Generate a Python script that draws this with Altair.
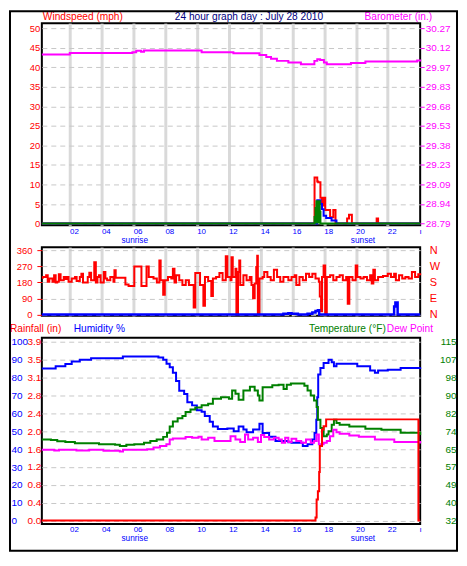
import altair as alt
import pandas as pd

FONT = "Liberation Sans"
RED, BLUE, GREEN, MAGENTA, NAVY = "#ff0000", "#0000ff", "#008000", "#ff00ff", "#000080"
GRID_V, GRID_H = "#d9d9d9", "#c8c8c8"

# ------------------------------------------------------------------ data
hour_domain = [0.22, 24.04]
x_tick_values = [2, 4, 6, 8, 10, 12, 14, 16, 18, 20, 22, 24]
x_tick_labels = ["02", "04", "06", "08", "10", "12", "14", "16", "18", "20", "22", "ı"]
sun_names = ["sunrise", "sunset"]
sun_hours = [6.07, 20.44]

# panel 1 : wind speed (mph) / barometer (in.)
wind_ticks = [0, 5, 10, 15, 20, 25, 30, 35, 40, 45, 50]
baro_tick_values = [28.79, 28.938, 29.086, 29.234, 29.382, 29.53, 29.678, 29.826, 29.974, 30.122, 30.27]
baro_tick_labels = ["28.79", "28.94", "29.09", "29.23", "29.38", "29.53", "29.68", "29.83", "29.97", "30.12", "30.27"]

wind_red = [(0.22, 0), (17.39, 11.8), (17.56, 10.8), (17.62, 10.6), (17.76, 6.6), (17.86, 4.6),
            (17.96, 6.6), (18.06, 3.5), (18.37, 1.6), (18.57, 3.5), (18.71, 0), (19.44, 1.3),
            (19.56, 2.25), (19.74, 0), (21.30, 1.3), (21.39, 0), (24.04, 0)]
wind_blue = [(0.22, 0), (17.56, 6.0), (17.76, 5.0), (17.86, 3.7), (17.96, 2.0), (18.12, 1.4),
             (18.46, 0.8), (18.77, 0), (24.04, 0)]
wind_green = [(0.22, 0), (17.39, 1.7), (17.45, 4.0), (17.51, 5.7), (17.72, 3.0), (17.76, 0), (24.04, 0)]
barometer = [(0.22, 30.072), (1.98, 30.082), (5.92, 30.089), (6.16, 30.100), (6.47, 30.092),
             (6.65, 30.102), (10.28, 30.089), (12.28, 30.080), (13.92, 30.067), (14.35, 30.052),
             (14.65, 30.040), (15.02, 30.023), (15.74, 30.011), (16.53, 29.998), (17.38, 30.023),
             (17.56, 30.035), (17.74, 30.030), (17.98, 30.011), (18.16, 29.998), (19.68, 30.006),
             (20.59, 30.018), (23.85, 30.026), (24.04, 30.018)]

# panel 2 : wind direction
dir_tick_values = [0, 90, 180, 270, 360]
dir_tick_letters = ["N", "E", "S", "W", "N"]
wind_dir = [(0.22, 205), (0.28, 210), (0.49, 219), (0.59, 183), (0.69, 201), (0.89, 183), (0.99, 219),
            (1.09, 179), (1.19, 183), (1.29, 225), (1.40, 192), (1.60, 210), (1.70, 198), (1.80, 210),
            (1.90, 183), (2.10, 201), (2.31, 210), (2.41, 188), (2.61, 210), (2.71, 228), (2.81, 179),
            (3.11, 210), (3.21, 234), (3.32, 192), (3.52, 292), (3.62, 179), (3.72, 210), (3.82, 219),
            (3.92, 179), (4.12, 238), (4.22, 201), (4.33, 192), (4.53, 210), (4.73, 183), (4.79, 247),
            (4.87, 205), (5.48, 168), (5.68, 159), (6.04, 269), (6.49, 159), (6.81, 269), (6.95, 210),
            (7.25, 201), (7.46, 179), (7.62, 302), (7.70, 192), (7.86, 110), (7.96, 192), (8.16, 210),
            (8.37, 201), (8.47, 256), (8.57, 179), (8.67, 219), (8.87, 192), (9.07, 165), (9.28, 192),
            (9.48, 165), (9.78, 40), (9.88, 232), (10.18, 165), (10.39, 49), (10.49, 210), (10.69, 188),
            (10.89, 104), (10.99, 201), (11.19, 210), (11.40, 232), (11.60, 192), (11.80, 325),
            (11.90, 210), (12.10, 192), (12.16, 320), (12.24, 210), (12.41, 256), (12.47, 0),
            (12.57, 238), (12.65, 302), (12.71, 165), (12.91, 219), (13.11, 192), (13.31, 210),
            (13.42, 165), (13.52, 91), (13.62, 174), (13.72, 265), (13.78, 329), (13.82, 0),
            (13.92, 201), (14.12, 210), (14.22, 238), (14.42, 210), (14.63, 192), (14.83, 250),
            (15.03, 210), (15.23, 183), (15.43, 210), (15.74, 192), (15.94, 210), (16.14, 219),
            (16.24, 165), (16.44, 210), (16.65, 192), (16.85, 228), (17.05, 210), (17.25, 228),
            (17.45, 201), (17.66, 183), (17.72, 101), (17.80, 18), (17.86, 210), (17.96, 274),
            (18.06, 0), (18.16, 210), (18.37, 219), (18.57, 192), (18.77, 210), (18.97, 219),
            (19.17, 192), (19.38, 210), (19.48, 60), (19.58, 210), (19.78, 192), (19.98, 274),
            (20.08, 210), (20.28, 201), (20.48, 210), (20.69, 192), (20.89, 219), (20.99, 174),
            (21.09, 250), (21.19, 192), (21.39, 210), (21.70, 216), (22.00, 228), (22.20, 210),
            (22.40, 228), (22.51, 192), (22.71, 219), (22.91, 201), (23.11, 210), (23.31, 201),
            (23.52, 238), (23.72, 210), (23.92, 225), (24.04, 219)]
wind_dir_speed = [(0.22, 0), (15.43, 4), (15.74, 8), (15.94, 4), (16.34, 0), (16.95, 5), (17.25, 12),
                  (17.45, 20), (17.60, 24), (17.68, 0), (22.40, 45), (22.48, 68), (22.62, 0), (24.04, 0)]

# panel 3 : rainfall / humidity / temperature / dew point
hum_ticks = [0, 10, 20, 30, 40, 50, 60, 70, 80, 90, 100]
rain_tick_values = [0.0, 0.39, 0.78, 1.17, 1.56, 1.95, 2.34, 2.73, 3.12, 3.51, 3.9]
rain_tick_labels = ["0.0", "0.4", "0.8", "1.2", "1.6", "2.0", "2.4", "2.8", "3.1", "3.5", "3.9"]
temp_tick_values = [32, 40.3, 48.6, 56.9, 65.2, 73.5, 81.8, 90.1, 98.4, 106.7, 115]
temp_tick_labels = ["32", "40", "49", "57", "65", "74", "82", "90", "98", "107", "115"]

humidity = [(0.22, 85.1), (1.09, 86.4), (1.70, 87.6), (2.10, 89.1), (2.61, 90.0), (3.32, 90.9),
            (5.32, 91.8), (7.56, 91.3), (7.86, 90.0), (8.07, 87.8), (8.27, 85.8), (8.47, 82.7),
            (8.67, 78.2), (8.87, 72.7), (9.18, 70.9), (9.38, 66.3), (9.68, 64.5), (9.98, 61.8),
            (10.28, 60.9), (10.48, 58.5), (10.79, 55.4), (10.99, 52.7), (11.30, 51.3), (11.90, 51.5),
            (12.30, 50.0), (12.61, 52.7), (12.91, 51.0), (13.11, 49.4), (13.52, 51.0), (13.92, 54.2),
            (14.12, 49.1), (14.53, 46.9), (14.93, 44.5), (15.74, 43.9), (15.94, 43.6), (16.65, 41.8),
            (16.95, 42.7), (17.25, 45.4), (17.39, 49.1), (17.50, 56.4), (17.56, 69.0), (17.62, 81.8),
            (17.76, 85.4), (17.96, 88.2), (18.27, 90.0), (18.47, 88.7), (18.61, 86.4), (18.77, 87.8),
            (20.08, 86.4), (20.89, 84.0), (21.19, 82.7), (21.39, 84.0), (22.00, 84.5), (22.81, 85.4),
            (24.04, 85.8)]
temperature = [(0.22, 69.7), (0.79, 69.4), (1.19, 68.9), (1.70, 68.5), (2.30, 67.9), (3.82, 67.5),
               (4.83, 67.2), (5.13, 66.7), (5.54, 67.2), (6.04, 67.5), (6.65, 68.2), (7.05, 69.0),
               (7.45, 69.7), (7.86, 70.9), (8.10, 72.8), (8.27, 75.7), (8.47, 78.0), (8.77, 79.5),
               (9.07, 80.6), (9.27, 82.5), (9.58, 83.6), (9.88, 84.5), (10.28, 85.6), (10.69, 86.3),
               (10.99, 88.6), (11.50, 89.3), (12.00, 88.6), (12.20, 92.4), (12.41, 90.9), (12.61, 88.1),
               (12.91, 92.4), (13.32, 94.2), (13.62, 92.4), (13.82, 90.1), (13.92, 87.8), (14.12, 93.9),
               (14.73, 94.9), (15.13, 95.1), (15.44, 93.1), (15.64, 95.1), (15.90, 95.7), (16.75, 94.6),
               (16.95, 92.4), (17.15, 90.1), (17.36, 87.8), (17.52, 84.8), (17.60, 78.8), (17.76, 75.0),
               (17.96, 71.2), (18.16, 72.0), (18.27, 73.5), (18.47, 76.5), (18.61, 78.8), (18.77, 77.3),
               (18.97, 76.5), (19.58, 75.7), (20.59, 74.7), (21.60, 74.2), (22.81, 72.8), (24.04, 71.8)]
dew_point = [(0.22, 64.9), (1.00, 64.6), (1.30, 64.9), (2.40, 64.6), (3.20, 64.9), (4.10, 64.5),
             (5.13, 64.1), (5.33, 64.9), (6.85, 65.2), (7.25, 66.0), (7.66, 66.7), (8.06, 67.5),
             (8.27, 69.7), (8.47, 70.2), (9.27, 70.8), (9.68, 70.5), (10.08, 71.0), (10.28, 69.7),
             (10.69, 70.5), (11.09, 69.0), (12.10, 71.2), (12.41, 69.7), (12.71, 68.5), (13.01, 72.0),
             (13.21, 69.7), (13.52, 70.5), (13.82, 68.5), (14.02, 71.8), (14.22, 70.8), (14.53, 69.7),
             (14.83, 70.5), (15.13, 69.7), (15.33, 68.2), (15.54, 70.5), (15.74, 68.5), (15.94, 70.0),
             (16.24, 69.0), (16.55, 68.2), (16.85, 69.7), (17.15, 68.2), (17.36, 69.0), (17.52, 72.0),
             (17.66, 67.5), (17.96, 68.2), (18.16, 69.0), (18.36, 71.2), (18.57, 74.2), (18.77, 73.0),
             (18.97, 72.3), (19.58, 71.5), (20.18, 71.0), (21.19, 69.7), (22.41, 68.5), (24.04, 67.8)]
rainfall = [(0.22, 0.0), (17.45, 0.07), (17.52, 0.46), (17.60, 0.64), (17.68, 1.06), (17.72, 1.63),
            (17.86, 1.99), (17.96, 2.06), (18.12, 2.21), (23.93, 0.0), (24.04, 0.0)]

# ------------------------------------------------------------------ helpers
W = 380
H1, H2, H3 = 203, 69, 187
GAP = 22

xs = alt.Scale(domain=hour_domain, nice=False, zero=False)


def lookup_expr(labels, index_expr):
    return "[" + ",".join("'" + s + "'" for s in labels) + "][" + index_expr + "]"


def xaxis(show_labels, show_grid):
    kw = dict(values=x_tick_values, title=None, domain=False, ticks=False, tickSize=0,
              labelOverlap=False, labelFlush=False)
    if show_labels:
        kw.update(labelExpr=lookup_expr(x_tick_labels, "round(datum.value / 2) - 1"),
                  labelColor=BLUE, labelFont=FONT, labelFontSize=8, labelAlign="left",
                  labelOffset=-0.5, labelPadding=2)
    else:
        kw.update(labels=False)
    if show_grid:
        kw.update(grid=True, gridColor=GRID_V, gridWidth=3,
                  gridOpacity={"condition": {"test": "datum.value >= 24", "value": 0}, "value": 1})
    else:
        kw.update(grid=False)
    return alt.Axis(**kw)


def frame(pairs):
    return pd.DataFrame(pairs, columns=["h", "v"])


def step_line(pairs, color, yscale, yaxis, xax, width=2.0):
    return alt.Chart(frame(pairs)).mark_line(
        interpolate="step-after", color=color, strokeWidth=width
    ).encode(
        x=alt.X("h:Q", scale=xs, axis=xax, title=None),
        y=alt.Y("v:Q", scale=yscale, axis=yaxis, title=None),
    )


def note(text, x, y, color, align="left", size=10.2):
    return alt.Chart(alt.Data(values=[{}])).mark_text(
        text=text, color=color, font=FONT, fontSize=size, align=align, baseline="middle"
    ).encode(x=alt.value(x), y=alt.value(y))


def sun_layer(h_view, xax):
    sun = pd.DataFrame({"name": sun_names, "h": sun_hours})
    return alt.Chart(sun).mark_text(
        color=BLUE, font=FONT, fontSize=8.3, align="center", baseline="middle"
    ).encode(
        x=alt.X("h:Q", scale=xs, axis=xax, title=None),
        y=alt.value(h_view + 15.5),
        text="name:N",
    )


# ------------------------------------------------------------------ panel 1
ax1 = xaxis(True, True)
wind_scale = alt.Scale(domain=[-0.43, 51.33], nice=False, zero=False)
baro_scale = alt.Scale(domain=[28.777, 30.309], nice=False, zero=False)
wind_axis = alt.Axis(orient="left", values=wind_ticks, domain=False, ticks=False, tickSize=0,
                     labelColor=RED, labelFont=FONT, labelFontSize=9.5, labelPadding=2,
                     grid=True, gridColor=GRID_H, gridDash=[5, 4], gridWidth=1)
baro_axis = alt.Axis(orient="right", values=baro_tick_values,
                     labelExpr=lookup_expr(baro_tick_labels, "round((datum.value - 28.79) / 0.148)"),
                     domain=False, ticks=True, tickSize=4, tickColor=MAGENTA, tickWidth=1,
                     labelColor=MAGENTA, labelFont=FONT, labelFontSize=10, labelPadding=1, grid=False)

green_area = alt.Chart(frame(wind_green)).mark_area(
    interpolate="step-after", color=GREEN, opacity=1,
    line=alt.OverlayMarkDef(color=GREEN, strokeWidth=2),
).encode(
    x=alt.X("h:Q", scale=xs, axis=ax1, title=None),
    y=alt.Y("v:Q", scale=wind_scale, axis=None, title=None),
)

border = alt.Chart(alt.Data(values=[{}])).mark_rect(
    fill="transparent", stroke="black", strokeWidth=2
).encode(x=alt.value(-32), x2=alt.value(417), y=alt.value(-12), y2=alt.value(530))

p1 = alt.layer(
    step_line(wind_red, RED, wind_scale, wind_axis, ax1),
    step_line(wind_blue, BLUE, wind_scale, None, ax1),
    green_area,
    step_line(barometer, MAGENTA, baro_scale, baro_axis, ax1),
    sun_layer(H1, ax1),
    note("Windspeed (mph)", 1, -6.4, RED),
    note("24 hour graph day : July 28 2010", 208, -6.4, NAVY, "center"),
    note("Barometer (in.)", 392, -6.4, MAGENTA, "right"),
    border,
).resolve_scale(y="independent").properties(width=W, height=H1)

# ------------------------------------------------------------------ panel 2
ax2 = xaxis(False, True)
dir_scale = alt.Scale(domain=[-7.1, 376.4], nice=False, zero=False)
dir_axis_left = alt.Axis(orient="left", values=dir_tick_values, domain=False, ticks=True, tickSize=5,
                         tickColor=RED, tickWidth=1, labelColor=RED, labelFont=FONT, labelFontSize=9.5,
                         labelPadding=5, grid=True, gridColor=GRID_H, gridDash=[5, 4], gridWidth=1)
dir_axis_right = alt.Axis(orient="right", values=dir_tick_values,
                          labelExpr=lookup_expr(dir_tick_letters, "round(datum.value / 90)"),
                          domain=False, ticks=False, tickSize=0, labelColor=RED, labelFont=FONT,
                          labelFontSize=11, labelPadding=9, grid=False)
p2 = alt.layer(
    step_line(wind_dir, RED, dir_scale, dir_axis_left, ax2, 2),
    step_line(wind_dir_speed, BLUE, dir_scale, dir_axis_right, ax2, 2.5),
).resolve_scale(y="independent").properties(width=W, height=H2)

# ------------------------------------------------------------------ panel 3
ax3 = xaxis(True, False)
hum_scale = alt.Scale(domain=[-1.85, 102.35], nice=False, zero=False)
rain_scale = alt.Scale(domain=[-0.0722, 3.9917], nice=False, zero=False)
temp_scale = alt.Scale(domain=[30.46, 116.95], nice=False, zero=False)
rain_axis = alt.Axis(orient="left", values=rain_tick_values,
                     labelExpr=lookup_expr(rain_tick_labels, "round(datum.value / 0.39)"),
                     domain=False, ticks=False, tickSize=0, labelColor=RED, labelFont=FONT,
                     labelFontSize=10, labelPadding=1,
                     grid=True, gridColor=GRID_H, gridDash=[5, 4], gridWidth=1)
hum_axis = alt.Axis(orient="left", values=hum_ticks, domain=False, ticks=False, tickSize=0,
                    labelColor=BLUE, labelFont=FONT, labelFontSize=10, labelAlign="left",
                    labelPadding=31, grid=False)
temp_axis = alt.Axis(orient="right", values=temp_tick_values,
                     labelExpr=lookup_expr(temp_tick_labels, "round((datum.value - 32) / 8.3)"),
                     domain=False, ticks=False, tickSize=0, labelColor=GREEN, labelFont=FONT,
                     labelFontSize=10, labelAlign="right", labelPadding=36, grid=False)
p3 = alt.layer(
    step_line(humidity, BLUE, hum_scale, hum_axis, ax3),
    step_line(temperature, GREEN, temp_scale, temp_axis, ax3),
    step_line(dew_point, MAGENTA, temp_scale, None, ax3),
    step_line(rainfall, RED, rain_scale, rain_axis, ax3),
    sun_layer(H3, ax3),
    note("Rainfall (in)", -32, -8.8, RED),
    note("Humidity %", 32, -8.8, BLUE),
    note("Temperature (°F)", 345.5, -8.8, GREEN, "right"),
    note("Dew Point", 346.5, -8.8, MAGENTA),
).resolve_scale(y="independent").properties(width=W, height=H3)

chart = alt.vconcat(p1, p2, p3, spacing=GAP, bounds="flush").properties(
    padding=0, background="white"
).configure_view(stroke="black", strokeWidth=2).configure_axis(labelFont=FONT)

chart.save("out.html", embed_options={"renderer": "svg", "actions": False})
